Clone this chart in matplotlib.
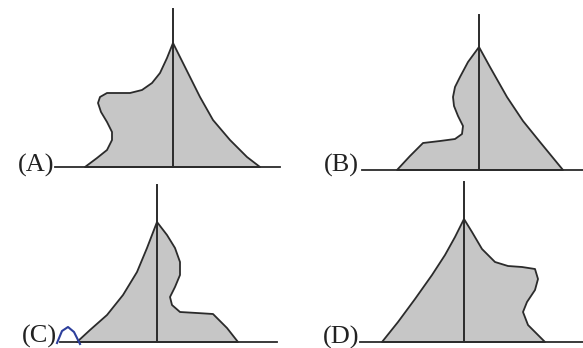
import numpy as np
import matplotlib
matplotlib.use('Agg')
from matplotlib import pyplot as plt

# pyramid outlines: (offset from centre line, height above baseline), reference pixels
a_left_x = [-88, -76, -66, -61, -61, -66, -72, -75, -73, -66, -56, -43, -31, -21, -13, -6, 0]
a_left_h = [0, 9, 17, 27, 35, 45, 55, 64, 70, 74, 74, 74, 77, 84, 94, 109, 124]
a_right_x = [7, 17, 27, 40, 57, 74, 87]
a_right_h = [110, 90, 70, 47, 27, 10, 0]

b_left_x = [-82, -69, -56, -39, -24, -17, -16, -21, -25, -26, -24, -19, -11, 0]
b_left_h = [0, 14, 27, 29, 31, 36, 44, 54, 64, 73, 83, 93, 108, 123]
b_right_x = [11, 28, 44, 61, 84]
b_right_h = [103, 73, 49, 28, 0]

c_left_x = [-80, -67, -50, -34, -20, -10, 0]
c_left_h = [0, 12, 27, 47, 70, 94, 120]
c_right_x = [10, 18, 23, 23, 18, 13, 15, 23, 40, 56, 70, 81]
c_right_h = [107, 94, 80, 67, 55, 45, 37, 30, 29, 28, 14, 0]

d_left_x = [-82, -66, -49, -32, -19, -9, 0]
d_left_h = [0, 20, 43, 67, 87, 105, 123]
d_right_x = [8, 18, 31, 44, 58, 71, 74, 71, 63, 59, 64, 81]
d_right_h = [110, 93, 80, 76, 75, 73, 63, 52, 40, 30, 17, 0]

labels = ['(A)', '(B)', '(C)', '(D)']
left_x = [a_left_x, b_left_x, c_left_x, d_left_x]
left_h = [a_left_h, b_left_h, c_left_h, d_left_h]
right_x = [a_right_x, b_right_x, c_right_x, d_right_x]
right_h = [a_right_h, b_right_h, c_right_h, d_right_h]
axis_top = [158, 155, 157, 160]

# layout (pixels): centre line x, baseline y, baseline start/end, label right edge
origins = [(173, 167), (479, 170), (157, 342), (464, 342)]
base_span = [(55, 280), (362, 583), (60, 277), (360, 583)]
label_pos = [(54, 165), (359, 165), (57, 336), (359, 337)]

fig = plt.figure(figsize=(5.83, 3.48), dpi=100)
ax = fig.add_axes([0, 0, 1, 1])
ax.set_xlim(0, 583)
ax.set_ylim(348, 0)
ax.axis('off')

ink = '#2b2b2b'
for i in range(4):
    ox, oy = origins[i]
    xs = list(right_x[i]) + list(left_x[i])
    hs = list(right_h[i]) + list(left_h[i])
    xs = ox + np.array(xs)
    ys = oy - np.array(hs)
    ax.fill(xs, ys, facecolor='#c6c6c6', edgecolor=ink, lw=1.3, joinstyle='round')
    ax.plot([ox, ox], [oy, oy - axis_top[i]], color=ink, lw=1.4)
    ax.plot(base_span[i], [oy, oy], color=ink, lw=1.3)
    ax.text(label_pos[i][0], label_pos[i][1], labels[i], ha='right', va='center',
            fontsize=19, family='Liberation Serif', color='#222222')

# blue pen mark next to (C)
ax.plot([57, 62, 68, 74, 80], [343, 331, 327, 332, 344], color='#2d3f9c', lw=1.5)

plt.savefig('out.png', dpi=100)
